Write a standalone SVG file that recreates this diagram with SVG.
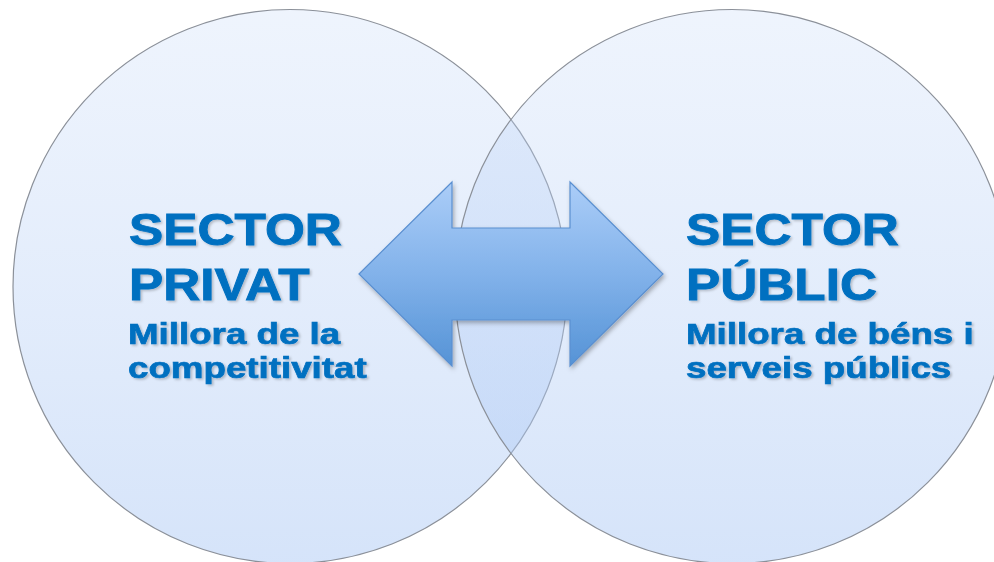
<svg xmlns="http://www.w3.org/2000/svg" width="994" height="562" viewBox="0 0 994 562">
  <defs>
    <linearGradient id="circFill" x1="0" y1="0" x2="0" y2="1">
      <stop offset="0" stop-color="#c4d8f8" stop-opacity="0.28"/>
      <stop offset="1" stop-color="#a8c6f4" stop-opacity="0.48"/>
    </linearGradient>
    <linearGradient id="arrowFill" x1="0" y1="0" x2="0" y2="1">
      <stop offset="0" stop-color="#abcdf8"/>
      <stop offset="0.5" stop-color="#82b2ea"/>
      <stop offset="1" stop-color="#5593d6"/>
    </linearGradient>
    <filter id="arrowShadow" x="-10%" y="-10%" width="125%" height="130%">
      <feDropShadow dx="1.5" dy="2.5" stdDeviation="2" flood-color="#000000" flood-opacity="0.3"/>
    </filter>
    <filter id="textShadow" x="-5%" y="-10%" width="115%" height="130%">
      <feDropShadow dx="1.5" dy="1.5" stdDeviation="1" flood-color="#000000" flood-opacity="0.22"/>
    </filter>
  </defs>
  <style>
    .circle { fill: url(#circFill); stroke: #8b9099; stroke-width: 1.2; }
    .title { font-family: "Liberation Sans", Arial, sans-serif; font-weight: bold; font-size: 45px; fill: #0070c0; stroke: #0070c0; stroke-width: 0.9px; filter: url(#textShadow); }
    .sub { font-family: "Liberation Sans", Arial, sans-serif; font-weight: bold; font-size: 29.5px; fill: #0070c0; stroke: #0070c0; stroke-width: 0.7px; filter: url(#textShadow); }
    .arrow { fill: url(#arrowFill); stroke: #5a8fd0; stroke-width: 1.2; filter: url(#arrowShadow); }
  </style>

  <g id="node-privat-shape">
    <circle class="circle" cx="290" cy="286.5" r="277"/>
  </g>
  <g id="node-public-shape">
    <circle class="circle" cx="732" cy="286.5" r="277"/>
  </g>

  <g id="connectors">
    <path class="arrow" d="M359,274 L452,182 L452,228 L570,228 L570,182 L663,274 L570,366 L570,320 L452,320 L452,366 Z"/>
  </g>

  <g id="node-privat-text">
    <text class="title" transform="translate(129,245) scale(1.14,1)">SECTOR</text>
    <text class="title" transform="translate(129,300) scale(1.14,1)">PRIVAT</text>
    <text class="sub" transform="translate(128,344) scale(1.245,1)">Millora de la</text>
    <text class="sub" transform="translate(128,378) scale(1.245,1)">competitivitat</text>
  </g>
  <g id="node-public-text">
    <text class="title" transform="translate(686,245) scale(1.14,1)">SECTOR</text>
    <text class="title" transform="translate(686,300) scale(1.14,1)">PÚBLIC</text>
    <text class="sub" transform="translate(686,343.5) scale(1.245,1)">Millora de béns i</text>
    <text class="sub" transform="translate(686,378) scale(1.245,1)">serveis públics</text>
  </g>
</svg>
